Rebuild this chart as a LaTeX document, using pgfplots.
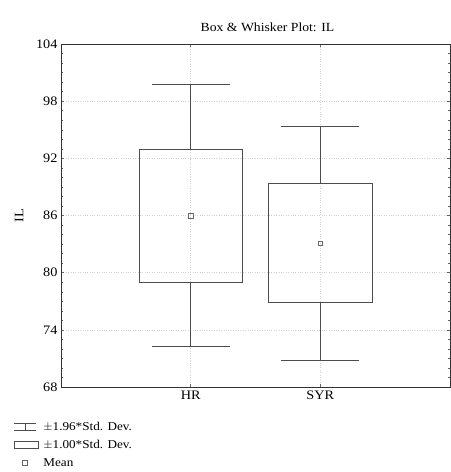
\documentclass[border=0pt]{standalone}
\usepackage{pgfplots}
\pgfplotsset{compat=1.18}
\usepackage{fontspec}
\setmainfont{Liberation Serif}[FakeStretch=1.1]
\begin{document}
\begin{tikzpicture}
\useasboundingbox (0,0) rectangle (451bp,472bp);
\begin{axis}[
  at={(61bp,85bp)}, anchor=south west,
  scale only axis, width=389bp, height=343bp,
  xmin=0, xmax=3, ymin=68, ymax=104,
  xtick={1,2}, xticklabels={HR,SYR},
  ytick={68,74,80,86,92,98,104},
  minor y tick num=5,
  tick align=inside,
  major tick length=3bp, minor tick length=2bp,
  grid=major, major grid style={dotted, gray!35, line width=0.4pt},
  axis line style={black!80},
  every tick/.style={black!60},
  tick label style={font=\fontsize{13}{15}\selectfont},
  /pgf/number format/assume math mode=true,
  ylabel={IL}, ylabel style={font=\fontsize{13}{15}\selectfont, yshift=6bp},
  title={Box \& Whisker Plot: IL},
  title style={font=\fontsize{12.5}{14}\selectfont, xshift=12bp, yshift=3bp},
  legend style={at={(-0.121,-0.095)}, anchor=north west, draw=none, fill=none,
    font=\fontsize{12}{14}\selectfont, row sep=4.5bp, cells={anchor=west},
    inner sep=0pt, /tikz/every even column/.append style={column sep=4bp}},
  legend cell align=left,
  unbounded coords=jump,
]
% boxes (+-1.00*SD)
\addplot[black!70, line width=0.6pt, forget plot] coordinates {
  (0.6,79.0) (1.4,79.0) (1.4,93.0) (0.6,93.0) (0.6,79.0) (1,nan)
  (1.6,76.85) (2.4,76.85) (2.4,89.35) (1.6,89.35) (1.6,76.85)};
% whiskers (+-1.96*SD)
\addplot[black!70, line width=0.6pt, forget plot] coordinates {
  (1,93.0) (1,99.72) (1,nan) (0.7,99.72) (1.3,99.72) (1,nan)
  (1,79.0) (1,72.28) (1,nan) (0.7,72.28) (1.3,72.28) (1,nan)
  (2,89.35) (2,95.35) (2,nan) (1.7,95.35) (2.3,95.35) (2,nan)
  (2,76.85) (2,70.85) (2,nan) (1.7,70.85) (2.3,70.85)};
% means
\addplot[only marks, mark=square, mark size=2.3bp, black!60, line width=0.6pt, forget plot]
  coordinates {(1,86.0) (2,83.1)};
\addlegendimage{legend image code/.code={
  \draw[black!70, line width=0.6pt] (0bp,3.5bp) -- (22bp,3.5bp);
  \draw[black!70, line width=0.6pt] (0bp,-3.5bp) -- (22bp,-3.5bp);
  \draw[black!70, line width=0.6pt] (11bp,-3.5bp) -- (11bp,3.5bp);
  \path[draw=none] (0bp,0bp) (27bp,0bp);}}
\addlegendentry{$\pm$1.96*Std. Dev.}
\addlegendimage{legend image code/.code={
  \draw[black!70, line width=0.6pt] (0bp,-3.5bp) rectangle (24bp,3.5bp);
  \path[draw=none] (0bp,0bp) (27bp,0bp);}}
\addlegendentry{$\pm$1.00*Std. Dev.}
\addlegendimage{legend image code/.code={
  \draw[black!60, line width=0.6pt] (8bp,-2.3bp) rectangle (12.6bp,2.3bp);
  \path[draw=none] (0bp,0bp) (27bp,0bp);}}
\addlegendentry{Mean}
\end{axis}
\end{tikzpicture}
\end{document}
